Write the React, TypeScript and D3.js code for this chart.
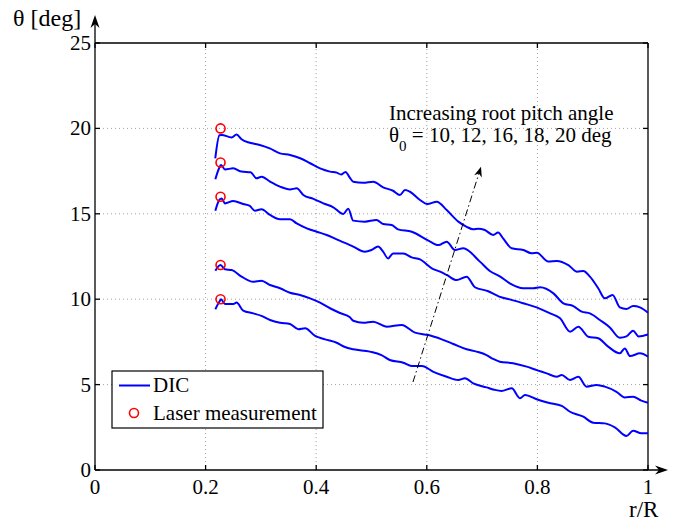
import React, { useEffect, useRef } from "react";
import * as d3 from "d3";

// axis ticks
const xTicks = [0, 0.2, 0.4, 0.6, 0.8, 1];
const yTicks = [0, 5, 10, 15, 20, 25];

// laser measurement (root pitch angle at r/R ~ 0.227)
const laserR = 0.227;
const laserTheta = [10, 12, 16, 18, 20];

// DIC curves, [r/R, theta]
const dic10 = [[0.2176,9.41],[0.2248,9.85],[0.228,9.99],[0.235,9.72],[0.25,9.72],[0.256,9.8],[0.268,9.33],[0.2863,9.17],[0.301,9.02],[0.3165,8.78],[0.3345,8.62],[0.3526,8.55],[0.3677,8.24],[0.38,8.3],[0.398,7.85],[0.416,7.65],[0.437,7.45],[0.452,7.2],[0.467,7.07],[0.497,6.93],[0.518,6.73],[0.533,6.44],[0.5575,6.28],[0.5727,6.09],[0.591,6.09],[0.612,5.75],[0.636,5.46],[0.657,5.27],[0.669,5.37],[0.684,5.07],[0.708,4.84],[0.722,4.7],[0.735,4.63],[0.7535,4.78],[0.7685,4.2],[0.7776,4.39],[0.7987,4.14],[0.8197,3.94],[0.844,3.75],[0.859,3.41],[0.883,3.12],[0.901,2.77],[0.922,2.73],[0.94,2.5],[0.961,1.99],[0.973,2.3],[0.988,2.15],[1.0,2.15]];
const dic12 = [[0.2176,11.67],[0.227,12.0],[0.235,11.75],[0.247,11.71],[0.265,11.32],[0.2863,11.02],[0.301,11.08],[0.3165,10.83],[0.3345,10.64],[0.3526,10.38],[0.3707,10.25],[0.389,10.05],[0.407,9.8],[0.425,9.47],[0.443,9.19],[0.461,8.94],[0.467,8.74],[0.485,8.62],[0.503,8.68],[0.5275,8.39],[0.5546,8.49],[0.5787,8.04],[0.603,7.9],[0.627,7.65],[0.648,7.38],[0.672,7.07],[0.69,6.93],[0.708,6.73],[0.72,6.5],[0.732,6.34],[0.756,6.25],[0.7806,6.05],[0.7987,5.85],[0.8168,5.66],[0.835,5.46],[0.844,5.56],[0.859,5.27],[0.874,5.46],[0.889,4.88],[0.907,4.98],[0.922,4.88],[0.943,4.58],[0.958,4.25],[0.973,4.29],[0.988,4.06],[1.0,3.94]];
const dic16 = [[0.2176,15.18],[0.2248,15.81],[0.229,15.9],[0.235,15.61],[0.25,15.75],[0.268,15.57],[0.28,15.46],[0.289,15.18],[0.301,15.26],[0.3165,14.93],[0.3345,14.68],[0.3526,14.68],[0.3647,14.44],[0.383,14.15],[0.401,13.95],[0.419,13.76],[0.437,13.5],[0.461,13.17],[0.467,13.08],[0.488,12.78],[0.5,12.88],[0.512,13.08],[0.521,12.78],[0.53,12.39],[0.539,12.68],[0.5575,12.68],[0.5727,12.45],[0.5877,12.33],[0.609,11.81],[0.624,11.61],[0.636,11.42],[0.654,11.12],[0.672,11.32],[0.687,10.7],[0.71,10.48],[0.731,10.15],[0.75,9.99],[0.7745,9.76],[0.7987,9.52],[0.823,9.17],[0.841,8.88],[0.859,8.1],[0.874,8.39],[0.892,7.8],[0.91,7.71],[0.928,7.22],[0.949,6.83],[0.958,7.12],[0.9675,6.67],[0.9855,6.83],[1.0,6.64]];
const dic18 = [[0.2176,17.02],[0.2248,17.7],[0.228,17.85],[0.235,17.6],[0.25,17.66],[0.265,17.47],[0.2815,17.43],[0.292,17.08],[0.3014,17.17],[0.3165,16.88],[0.3345,16.59],[0.3526,16.43],[0.3647,16.49],[0.3767,16.1],[0.395,15.87],[0.413,15.61],[0.431,15.38],[0.449,14.99],[0.458,15.3],[0.467,14.6],[0.488,14.54],[0.509,14.64],[0.521,14.4],[0.5365,14.34],[0.548,14.09],[0.5727,13.95],[0.603,13.43],[0.621,13.17],[0.636,13.37],[0.651,12.88],[0.666,12.98],[0.696,12.2],[0.714,11.65],[0.732,11.34],[0.75,10.93],[0.7745,10.64],[0.7926,10.64],[0.805,10.7],[0.829,10.34],[0.847,9.76],[0.865,9.6],[0.88,9.27],[0.895,9.17],[0.913,8.78],[0.931,8.35],[0.949,7.74],[0.961,7.82],[0.973,8.16],[0.983,7.82],[1.0,7.93]];
const dic20 = [[0.2175,18.25],[0.225,19.6],[0.229,19.62],[0.247,19.47],[0.256,19.65],[0.265,19.36],[0.28,19.16],[0.298,19.03],[0.316,18.83],[0.3345,18.54],[0.3526,18.44],[0.371,18.25],[0.389,17.96],[0.407,17.66],[0.425,17.47],[0.437,17.41],[0.445,17.3],[0.453,17.45],[0.461,17.1],[0.467,16.88],[0.485,16.82],[0.503,16.88],[0.521,16.55],[0.539,16.35],[0.5515,16.1],[0.5606,16.39],[0.5696,16.29],[0.5877,15.81],[0.601,15.57],[0.618,15.71],[0.636,15.22],[0.657,14.54],[0.672,14.24],[0.684,14.09],[0.693,14.13],[0.705,14.05],[0.72,13.76],[0.729,13.91],[0.738,13.56],[0.7535,12.98],[0.7745,12.88],[0.7897,12.69],[0.799,12.72],[0.8197,12.2],[0.835,12.24],[0.856,12.0],[0.872,11.61],[0.883,11.65],[0.895,11.32],[0.91,10.64],[0.922,10.05],[0.936,10.25],[0.949,9.52],[0.961,9.43],[0.973,9.6],[0.9855,9.52],[1.0,9.21]];

// annotation arrow, data coords (tail -> head)
const arrowFrom = [0.575, 5.15];
const arrowTo = [0.698, 17.75];

const FONT = "'Liberation Serif', 'Times New Roman', Times, serif";

export default function App() {
  const ref = useRef<SVGSVGElement>(null);

  useEffect(() => {
    const svg = d3.select(ref.current);
    svg.selectAll("*").remove();

    const x = d3.scaleLinear().domain([0, 1]).range([95, 648]);
    const y = d3.scaleLinear().domain([0, 25]).range([470, 43]);

    svg.append("rect").attr("width", 677).attr("height", 522).attr("fill", "#fff");

    // grid
    const grid = svg.append("g").attr("stroke", "#8a8a8a").attr("stroke-width", 0.8).attr("stroke-dasharray", "1,3");
    xTicks.filter((t) => t > 0 && t < 1).forEach((t) => {
      grid.append("line").attr("x1", x(t)).attr("x2", x(t)).attr("y1", y(0)).attr("y2", y(25));
    });
    yTicks.filter((t) => t > 0 && t < 25).forEach((t) => {
      grid.append("line").attr("x1", x(0)).attr("x2", x(1)).attr("y1", y(t)).attr("y2", y(t));
    });

    // box + ticks
    const ax = svg.append("g").attr("stroke", "#000").attr("stroke-width", 1.3).attr("fill", "none");
    ax.append("line").attr("x1", x(0)).attr("x2", x(1)).attr("y1", y(25)).attr("y2", y(25));
    ax.append("line").attr("x1", x(1)).attr("x2", x(1)).attr("y1", y(25)).attr("y2", y(0));
    ax.append("line").attr("x1", x(0)).attr("x2", 664).attr("y1", y(0)).attr("y2", y(0));
    ax.append("line").attr("x1", x(0)).attr("x2", x(0)).attr("y1", y(0)).attr("y2", 19);
    xTicks.forEach((t) => {
      ax.append("line").attr("x1", x(t)).attr("x2", x(t)).attr("y1", y(0)).attr("y2", y(0) - 5);
      ax.append("line").attr("x1", x(t)).attr("x2", x(t)).attr("y1", y(25)).attr("y2", y(25) + 5);
    });
    yTicks.forEach((t) => {
      ax.append("line").attr("x1", x(0)).attr("x2", x(0) + 5).attr("y1", y(t)).attr("y2", y(t));
      ax.append("line").attr("x1", x(1)).attr("x2", x(1) - 5).attr("y1", y(t)).attr("y2", y(t));
    });

    // axis arrow heads
    svg.append("path").attr("d", `M${x(0)},15 L${x(0) - 4.5},28 L${x(0)},24 L${x(0) + 4.5},28 Z`).attr("fill", "#000");
    svg.append("path").attr("d", `M668,${y(0)} L655,${y(0) - 4.5} L659,${y(0)} L655,${y(0) + 4.5} Z`).attr("fill", "#000");

    // tick labels
    const lab = svg.append("g").attr("font-family", FONT).attr("font-size", 21).attr("fill", "#000");
    xTicks.forEach((t) => {
      lab.append("text").attr("x", x(t)).attr("y", 494).attr("text-anchor", "middle").text(String(t));
    });
    yTicks.forEach((t) => {
      lab.append("text").attr("x", 91).attr("y", y(t) + 7).attr("text-anchor", "end").text(String(t));
    });

    // axis labels
    svg.append("text").attr("x", 13).attr("y", 26).attr("font-family", FONT).attr("font-size", 24).text("θ [deg]");
    svg.append("text").attr("x", 629).attr("y", 517).attr("font-family", FONT).attr("font-size", 23).text("r/R");

    // DIC curves
    const line = d3.line<number[]>().x((d) => x(d[0])).y((d) => y(d[1])).curve(d3.curveMonotoneX);
    [dic10, dic12, dic16, dic18, dic20].forEach((s) => {
      svg.append("path").attr("d", line(s)).attr("fill", "none").attr("stroke", "#0000ff")
        .attr("stroke-width", 2).attr("stroke-linejoin", "round");
    });

    // laser points
    laserTheta.forEach((t) => {
      svg.append("circle").attr("cx", x(laserR)).attr("cy", y(t)).attr("r", 4.5)
        .attr("fill", "none").attr("stroke", "#ff0000").attr("stroke-width", 1.6);
    });

    // annotation arrow
    const x1 = x(arrowFrom[0]), y1 = y(arrowFrom[1]);
    const x2 = x(arrowTo[0]), y2 = y(arrowTo[1]);
    svg.append("line").attr("x1", x1).attr("y1", y1).attr("x2", x2).attr("y2", y2)
      .attr("stroke", "#000").attr("stroke-width", 1).attr("stroke-dasharray", "7,3,1.5,3");
    const ang = (Math.atan2(y2 - y1, x2 - x1) * 180) / Math.PI;
    svg.append("path").attr("d", "M0,0 L-10,-4 L-7,0 L-10,4 Z").attr("fill", "#000")
      .attr("transform", `translate(${x2},${y2}) rotate(${ang})`);

    const ann = svg.append("g").attr("font-family", FONT).attr("font-size", 21).attr("fill", "#000");
    ann.append("text").attr("x", 389).attr("y", 120).text("Increasing root pitch angle");
    const t2 = ann.append("text").attr("x", 389).attr("y", 142);
    t2.append("tspan").text("θ");
    t2.append("tspan").attr("font-size", 15).attr("dy", 9).text("0");
    t2.append("tspan").attr("dy", -9).text(" = 10, 12, 16, 18, 20 deg");

    // legend
    const lg = svg.append("g");
    lg.append("rect").attr("x", 112).attr("y", 371).attr("width", 211).attr("height", 57)
      .attr("fill", "#fff").attr("stroke", "#000").attr("stroke-width", 1.2);
    lg.append("line").attr("x1", 119).attr("x2", 150).attr("y1", 385.5).attr("y2", 385.5)
      .attr("stroke", "#0000ff").attr("stroke-width", 2);
    lg.append("circle").attr("cx", 134).attr("cy", 413).attr("r", 4.5)
      .attr("fill", "none").attr("stroke", "#ff0000").attr("stroke-width", 1.6);
    lg.append("text").attr("x", 153).attr("y", 392).attr("font-family", FONT).attr("font-size", 21).text("DIC");
    lg.append("text").attr("x", 153).attr("y", 420).attr("font-family", FONT).attr("font-size", 21).text("Laser measurement");
  }, []);

  return <svg ref={ref} width={677} height={522} style={{ position: "absolute", left: 0, top: 0 }} />;
}
